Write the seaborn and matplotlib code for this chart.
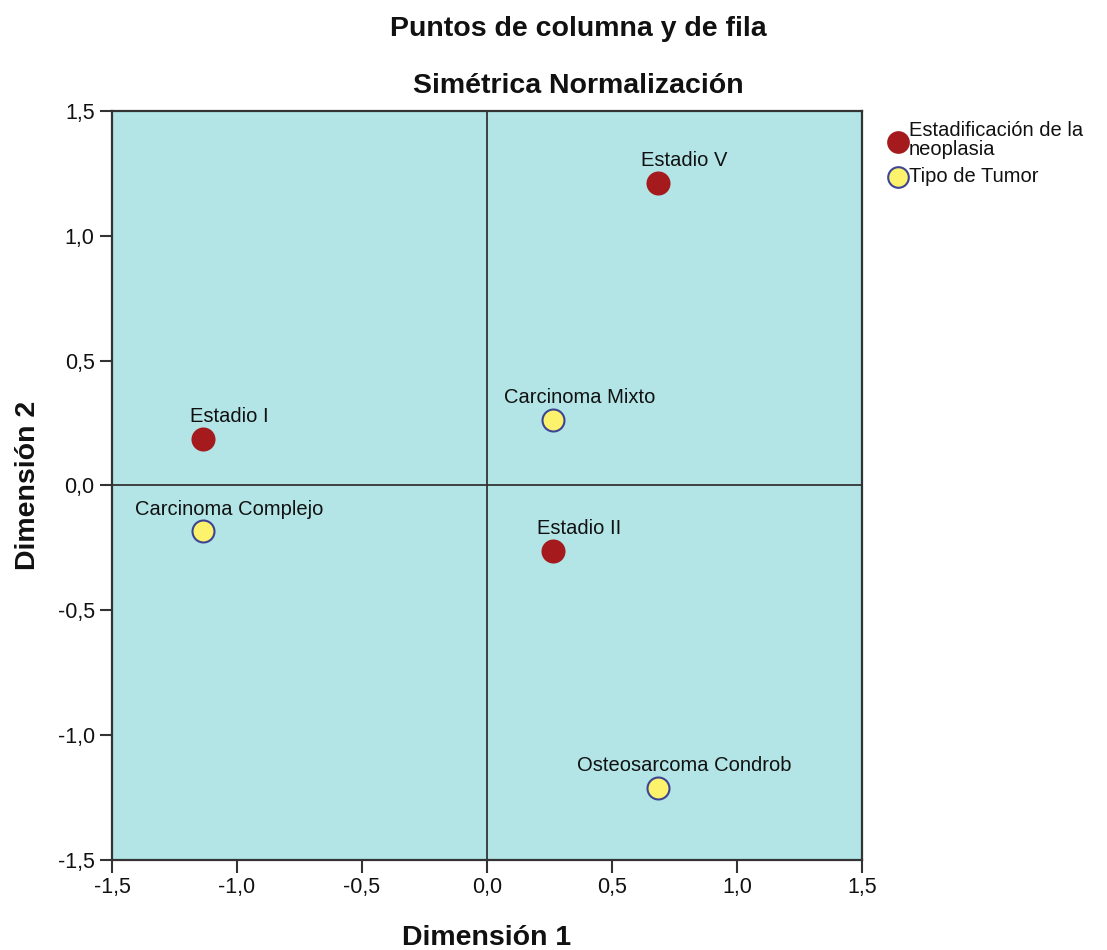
import matplotlib
matplotlib.use("Agg")
import matplotlib.pyplot as plt
import seaborn as sns
import pandas as pd

# Data
labels = ["Estadio V", "Estadio I", "Estadio II",
          "Carcinoma Mixto", "Carcinoma Complejo", "Osteosarcoma Condrob"]
dim1 = [0.684, -1.136, 0.262, 0.264, -1.136, 0.684]
dim2 = [1.212, 0.188, -0.262, 0.264, -0.184, -1.212]
groups = ["Estadificación de la\nneoplasia"] * 3 + ["Tipo de Tumor"] * 3
ticks = [-1.5, -1.0, -0.5, 0.0, 0.5, 1.0, 1.5]
tick_labels = ["-1,5", "-1,0", "-0,5", "0,0", "0,5", "1,0", "1,5"]

df = pd.DataFrame({"Dimensión 1": dim1, "Dimensión 2": dim2,
                   "label": labels, "grupo": groups})

sns.set_style("white")
plt.rcParams["font.family"] = ["Liberation Sans", "DejaVu Sans"]

fig = plt.figure(figsize=(11.07, 9.5), dpi=100)
ax = fig.add_axes([0.1012, 0.0947, 0.6775, 0.7885])
ax.set_facecolor("#b3e5e7")

palette = {"Estadificación de la\nneoplasia": "#a51a1c", "Tipo de Tumor": "#fdf26b"}
edges = {"Estadificación de la\nneoplasia": "#a51a1c", "Tipo de Tumor": "#3d4592"}

ax.axhline(0, color="#333333", lw=1.3, zorder=1)
ax.axvline(0, color="#333333", lw=1.3, zorder=1)

for g in palette:
    sub = df[df["grupo"] == g]
    sns.scatterplot(data=sub, x="Dimensión 1", y="Dimensión 2", ax=ax,
                    color=palette[g], edgecolor=edges[g], linewidth=1.5,
                    s=250, label=g, zorder=3)

for x, y, t in zip(dim1, dim2, labels):
    ax.annotate(t, (x, y), xytext=(19, 12), textcoords="offset points",
                ha="center", va="baseline", fontsize=14.5, color="#111111")

ax.set_xlim(-1.5, 1.5)
ax.set_ylim(-1.5, 1.5)
ax.set_xticks(ticks)
ax.set_xticklabels(tick_labels)
ax.set_yticks(ticks)
ax.set_yticklabels(tick_labels)
ax.tick_params(axis="both", direction="out", length=9, width=1.5,
               color="#333333", labelsize=15.5, bottom=True, left=True,
               labelcolor="#111111")
for sp in ax.spines.values():
    sp.set_visible(True)
    sp.set_color("#333333")
    sp.set_linewidth(1.6)

ax.set_xlabel("Dimensión 1", fontsize=20.5, fontweight="bold", labelpad=19,
              color="#111111")
ax.set_ylabel("Dimensión 2", fontsize=20.5, fontweight="bold", labelpad=12,
              color="#111111")

fig.text(0.522, 0.969, "Puntos de columna y de fila", ha="center", va="center",
         fontsize=20.5, fontweight="bold", color="#111111")
fig.text(0.522, 0.909, "Simétrica Normalización", ha="center", va="center",
         fontsize=20.5, fontweight="bold", color="#111111")

leg = ax.legend(loc="upper left", bbox_to_anchor=(1.018, 1.003), frameon=False,
                fontsize=14.5, handletextpad=0.05, labelspacing=0.4,
                borderaxespad=0.2, handlelength=1.0)
for t in leg.get_texts():
    t.set_linespacing(1.0)
    t.set_color("#111111")
for h in leg.legend_handles:
    h.set_sizes([220])

fig.savefig("out.png", dpi=100)
